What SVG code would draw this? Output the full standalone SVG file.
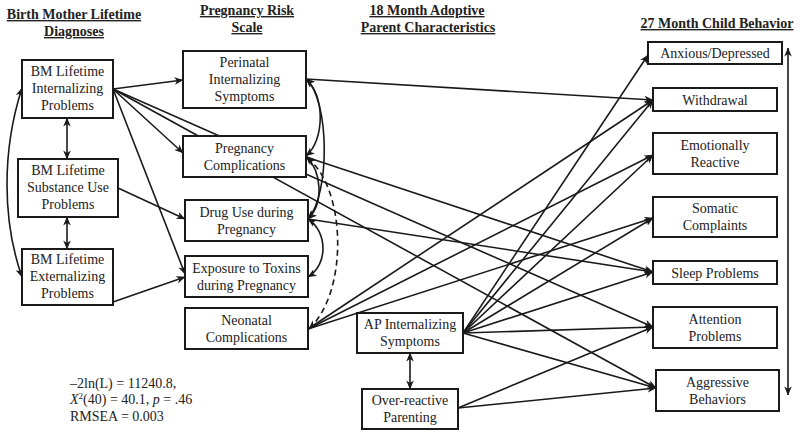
<svg xmlns="http://www.w3.org/2000/svg" width="800" height="436" viewBox="0 0 800 436">
<defs>
<marker id="ah" viewBox="0 0 10 10" refX="9.5" refY="5" markerWidth="9" markerHeight="9" markerUnits="userSpaceOnUse" orient="auto-start-reverse"><path d="M0,0.8 L10,5 L0,9.2 L2.8,5 z" fill="#1a1a1a"/></marker>
<style>
.box{fill:#fff;stroke:#1a1a1a;stroke-width:2}
.e{fill:none;stroke:#1a1a1a;stroke-width:1.6;marker-end:url(#ah)}
.d{fill:none;stroke:#1a1a1a;stroke-width:1.6;marker-end:url(#ah);marker-start:url(#ah)}
.dash{stroke-dasharray:6,4}
</style>
</defs>
<rect width="800" height="436" fill="#fff"/>
<g id="headers" font-family="Liberation Serif, Times New Roman, serif" font-size="14" font-weight="bold" fill="#222" text-anchor="middle" text-decoration="underline">
<text x="74" y="19">Birth Mother Lifetime</text>
<text x="74" y="36">Diagnoses</text>
<text x="247" y="15">Pregnancy Risk</text>
<text x="247" y="32">Scale</text>
<text x="427" y="15">18 Month Adoptive</text>
<text x="428" y="32">Parent Characteristics</text>
<text x="717" y="28">27 Month Child Behavior</text>
</g>
<g id="connectors">
<path class="e" d="M113,89 L183,80"/>
<path class="e" d="M113,89 L183,153"/>
<path class="e" d="M113,89 L185,274"/>
<path class="e" d="M113,89 L653,327"/>
<path class="e" d="M113,89 L656,388"/>
<path class="e" d="M118,188 L185,219"/>
<path class="e" d="M113,302 L185,277"/>
<path class="e" d="M306,79 L653,100"/>
<path class="e" d="M306,157 L653,272"/>
<path class="e" d="M308,219 L653,272"/>
<path class="e" d="M308,329 L653,100"/>
<path class="e" d="M308,329 L653,155"/>
<path class="e" d="M308,329 L653,218"/>
<path class="e" d="M463,333 L648,55"/>
<path class="e" d="M463,333 L653,100"/>
<path class="e" d="M463,333 L653,155"/>
<path class="e" d="M463,333 L653,218"/>
<path class="e" d="M463,333 L653,272"/>
<path class="e" d="M463,333 L653,327"/>
<path class="e" d="M463,333 L656,388"/>
<path class="e" d="M458,408 L653,327"/>
<path class="e" d="M458,408 L656,388"/>
<path class="d" d="M67,118 L67,159"/>
<path class="d" d="M67,217 L67,249"/>
<path class="d" d="M410,353 L410,389"/>
<path class="d" d="M788,48 L788,395"/>
<path class="d" d="M22,88 C2,150 2,220 22,277"/>
<path class="d" d="M306,79 C325,95 325,140 306,156"/>
<path class="d" d="M306,79 C330,100 330,195 308,219"/>
<path class="d" d="M306,156 C322,172 324,203 308,219"/>
<path class="d" d="M308,219 C328,232 328,265 308,277"/>
<path class="d dash" d="M307,158 C345,185 350,290 309,329"/>
</g>
<g id="nodes" font-family="Liberation Serif, Times New Roman, serif" font-size="14" fill="#222" text-anchor="middle">
<g id="bm_int"><rect class="box" x="22" y="60" width="91" height="58"/><text x="67.5" y="76">BM Lifetime</text><text x="67.5" y="93">Internalizing</text><text x="67.5" y="110">Problems</text></g>
<g id="bm_sub"><rect class="box" x="18" y="159" width="100" height="58"/><text x="68" y="175">BM Lifetime</text><text x="68" y="192">Substance Use</text><text x="68" y="209">Problems</text></g>
<g id="bm_ext"><rect class="box" x="22" y="249" width="91" height="56"/><text x="67.5" y="264">BM Lifetime</text><text x="67.5" y="281">Externalizing</text><text x="67.5" y="298">Problems</text></g>
<g id="perinatal"><rect class="box" x="183" y="51" width="123" height="57"/><text x="244.5" y="67">Perinatal</text><text x="244.5" y="84">Internalizing</text><text x="244.5" y="101">Symptoms</text></g>
<g id="preg_comp"><rect class="box" x="183" y="136" width="123" height="41"/><text x="244.5" y="153">Pregnancy</text><text x="244.5" y="170">Complications</text></g>
<g id="drug_use"><rect class="box" x="185" y="200" width="123" height="41"/><text x="246.5" y="217">Drug Use during</text><text x="246.5" y="234">Pregnancy</text></g>
<g id="toxins"><rect class="box" x="185" y="256" width="123" height="41"/><text x="246.5" y="273">Exposure to Toxins</text><text x="246.5" y="290">during Pregnancy</text></g>
<g id="neonatal"><rect class="box" x="185" y="308" width="123" height="41"/><text x="246.5" y="325">Neonatal</text><text x="246.5" y="342">Complications</text></g>
<g id="ap_int"><rect class="box" x="357" y="313" width="106" height="40"/><text x="410" y="329">AP Internalizing</text><text x="410" y="346">Symptoms</text></g>
<g id="over_par"><rect class="box" x="362" y="389" width="96" height="40"/><text x="410" y="405">Over-reactive</text><text x="410" y="422">Parenting</text></g>
<g id="anxious"><rect class="box" x="648" y="42" width="134" height="22"/><text x="715" y="58">Anxious/Depressed</text></g>
<g id="withdrawal"><rect class="box" x="653" y="88" width="124" height="23"/><text x="715" y="104.5">Withdrawal</text></g>
<g id="emot"><rect class="box" x="653" y="133" width="124" height="41"/><text x="715" y="150">Emotionally</text><text x="715" y="167">Reactive</text></g>
<g id="somatic"><rect class="box" x="653" y="197" width="124" height="40"/><text x="715" y="213">Somatic</text><text x="715" y="230">Complaints</text></g>
<g id="sleep"><rect class="box" x="653" y="261" width="124" height="23"/><text x="715" y="277.5">Sleep Problems</text></g>
<g id="attention"><rect class="box" x="653" y="307" width="124" height="41"/><text x="715" y="324">Attention</text><text x="715" y="341">Problems</text></g>
<g id="aggressive"><rect class="box" x="656" y="370" width="123" height="41"/><text x="717.5" y="387">Aggressive</text><text x="717.5" y="404">Behaviors</text></g>
</g>
<g id="fit" font-family="Liberation Serif, Times New Roman, serif" font-size="14" fill="#222">
<text x="70" y="388">–2ln(L) = 11240.8,</text>
<text x="70" y="404"><tspan font-style="italic">X</tspan><tspan font-size="9" dy="-5">2</tspan><tspan dy="5">(40) = 40.1, </tspan><tspan font-style="italic">p</tspan> = .46</text>
<text x="70" y="421">RMSEA = 0.003</text>
</g>
</svg>
